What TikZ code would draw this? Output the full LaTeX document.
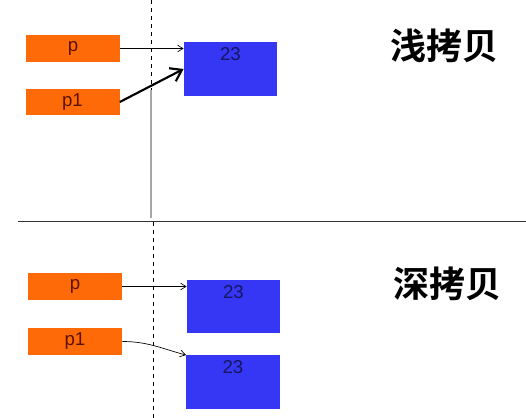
\documentclass[tikz,border=0pt]{standalone}
\usepackage{fontspec}
\setmainfont{Liberation Sans}
\newfontfamily\cjk{Noto Sans CJK SC Bold}
\usetikzlibrary{arrows.meta}

\definecolor{ptrorange}{HTML}{FF6A08}
\definecolor{ptrtext}{HTML}{5A1200}
\definecolor{valblue}{HTML}{3636F5}
\definecolor{valtext}{HTML}{161660}

\tikzset{
	ptrbox/.style={draw=none, fill=ptrorange, minimum width=70.5pt, minimum height=20pt, inner sep=0pt, text=ptrtext, font=\fontsize{14}{16}\selectfont},
	valbox/.style={draw=none, fill=valblue, minimum width=70pt, minimum height=40pt, inner sep=0pt},
	valtxt/.style={text=valtext, font=\fontsize{14}{16}\selectfont, anchor=north, inner sep=0pt, yshift=-4pt},
	thinarrow/.style={-{Straight Barb[length=4pt, width=5pt]}, line width=0.5pt},
	thickarrow/.style={-{Straight Barb[length=8pt, width=11pt, line width=1.6pt]}, line width=1.6pt},
	title/.style={font=\cjk\fontsize{27}{30}\selectfont, inner sep=0pt}
}

\begin{document}
\begin{tikzpicture}[x=0.75pt, y=-0.75pt]
	\useasboundingbox (0,0) rectangle (526,418);
	
	% Dividers
	\draw[dashed, line width=0.6pt] (151,0) -- (151,90);
	\draw[gray!70, line width=0.8pt] (151,90) -- (151,218);
	\draw[black!80, line width=0.7pt] (18,221) -- (526,221);
	\draw[dashed, line width=0.6pt] (153,222) -- (153,418);
	
	% Shallow copy
	\node[ptrbox] (shallowP) at (73,48.5) {p};
	\node[ptrbox] (shallowPone) at (72.5,102) {p1};
	\node[valbox, label={[valtxt]north:23}] (shallowVal) at (230.5,69) {};
	\draw[thinarrow] (shallowP.east) -- (shallowP.east -| shallowVal.west);
	\draw[thickarrow] (shallowPone.east) -- (shallowVal.west);
	\node[title] (shallowTitle) at (444,46) {浅拷贝};
	
	% Deep copy
	\node[ptrbox] (deepP) at (75,286.5) {p};
	\node[ptrbox] (deepPone) at (75,341.5) {p1};
	\node[valbox, label={[valtxt]north:23}] (deepValA) at (233.5,306.5) {};
	\node[valbox, label={[valtxt]north:23}] (deepValB) at (233,382) {};
	\draw[thinarrow] (deepP.east) -- (deepP.east -| deepValA.west);
	\draw[thinarrow] (deepPone.east) to[out=0, in=165] (deepValB.north west);
	\node[title] (deepTitle) at (447,284) {深拷贝};
	
\end{tikzpicture}
\end{document}
